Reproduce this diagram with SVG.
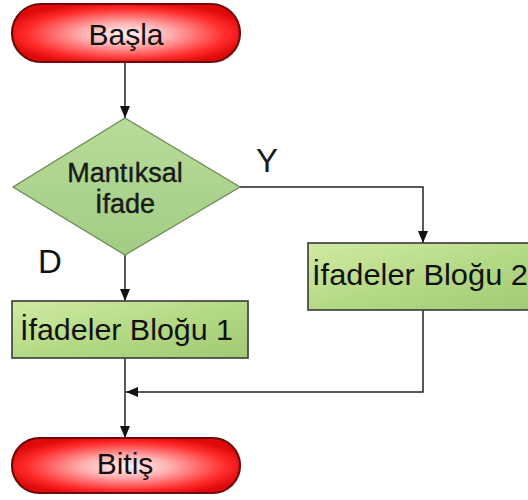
<svg xmlns="http://www.w3.org/2000/svg" width="528" height="500" viewBox="0 0 528 500">
  <style>
    .term { stroke: #6e0a0a; stroke-width: 2.2; }
    .block { stroke: #3a3a3a; stroke-width: 1.6; }
    .decision { stroke: #6a8a55; stroke-width: 1.3; }
    .lbl { font-family: "Comic Sans MS", "Liberation Sans", "DejaVu Sans", sans-serif; fill: #111; }
    .cond { font-family: "Liberation Sans", Arial, sans-serif; fill: #1a1a1a; }
    .wire { fill: none; stroke: #222; stroke-width: 1.5; }
  </style>
  <defs>
    <radialGradient id="redGlow" cx="50%" cy="52%" r="55%">
      <stop offset="0" stop-color="#fff2f2"/>
      <stop offset="0.35" stop-color="#ffb0b0"/>
      <stop offset="0.8" stop-color="#ff2a2a"/>
      <stop offset="1" stop-color="#e00a0a"/>
    </radialGradient>
    <linearGradient id="greenBox" x1="0" y1="0" x2="1" y2="1">
      <stop offset="0" stop-color="#cfeaa2"/>
      <stop offset="0.5" stop-color="#b5da86"/>
      <stop offset="1" stop-color="#a2c874"/>
    </linearGradient>
    <linearGradient id="greenDiamond" x1="0" y1="0" x2="0" y2="1">
      <stop offset="0" stop-color="#b8dc9a"/>
      <stop offset="1" stop-color="#a2cc84"/>
    </linearGradient>
    <marker id="arrow" viewBox="0 0 12 12" refX="12" refY="6" markerWidth="12" markerHeight="12" markerUnits="userSpaceOnUse" orient="auto">
      <path d="M0 1 L12 6 L0 11 Z" fill="#111"/>
    </marker>
  </defs>

  <g id="connectors">
    <path class="wire" d="M125 62 V118" marker-end="url(#arrow)"/>
    <path class="wire" d="M240 187 H423 V243" marker-end="url(#arrow)"/>
    <path class="wire" d="M125 255 V301" marker-end="url(#arrow)"/>
    <path class="wire" d="M125 358 V438" marker-end="url(#arrow)"/>
    <path class="wire" d="M423 310 V392 H126" marker-end="url(#arrow)"/>
  </g>

  <g id="start">
    <rect class="term" x="12" y="4" width="228" height="58" rx="29" ry="29" fill="url(#redGlow)"/>
    <text class="lbl" x="126" y="45" font-size="30" text-anchor="middle">Başla</text>
  </g>

  <g id="condition">
    <polygon class="decision" points="125,118 240,187 125,255 13,187" fill="url(#greenDiamond)"/>
    <text class="cond" x="125" y="182" font-size="27" text-anchor="middle" stroke="#1a1a1a" stroke-width="0.4">Mantıksal</text>
    <text class="cond" x="125" y="213" font-size="27" text-anchor="middle" stroke="#1a1a1a" stroke-width="0.4">İfade</text>
  </g>

  <g id="label-yes">
    <text class="cond" x="267" y="172" font-size="33" text-anchor="middle">Y</text>
  </g>
  <g id="label-no">
    <text class="lbl" x="50" y="273" font-size="33" text-anchor="middle">D</text>
  </g>

  <g id="block1">
    <rect class="block" x="12" y="301" width="236" height="57" fill="url(#greenBox)"/>
    <text class="lbl" x="20" y="340" font-size="30" textLength="213" lengthAdjust="spacingAndGlyphs">İfadeler Bloğu 1</text>
  </g>

  <g id="block2">
    <rect class="block" x="308" y="243" width="240" height="67" fill="url(#greenBox)"/>
    <text class="lbl" x="312" y="285" font-size="30" textLength="216" lengthAdjust="spacingAndGlyphs">İfadeler Bloğu 2</text>
  </g>

  <g id="end">
    <rect class="term" x="12" y="438" width="228" height="55" rx="27.5" ry="27.5" fill="url(#redGlow)"/>
    <text class="lbl" x="125" y="474" font-size="30" text-anchor="middle">Bitiş</text>
  </g>
</svg>
